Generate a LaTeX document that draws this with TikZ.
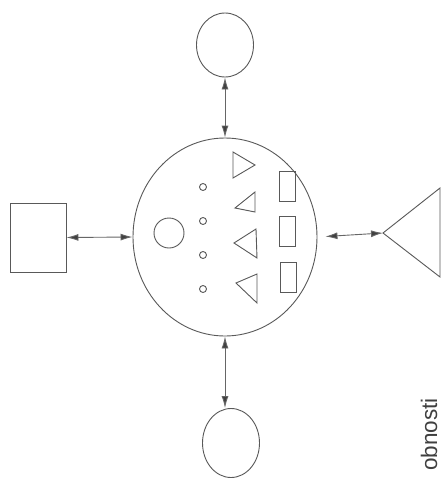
\documentclass[tikz,border=0pt]{standalone}
\usepackage{fontspec}
\setsansfont{Liberation Sans}
\usetikzlibrary{shapes.geometric,arrows.meta}
\begin{document}
\begin{tikzpicture}[x=1pt,y=-1pt,
  ln/.style={draw=black!65, line width=0.9pt},
  oval/.style={ellipse, ln, inner sep=0pt},
  link/.style={draw=black!60, line width=0.9pt,
    {Latex[length=12pt,width=7pt,fill=black!75]}-{Latex[length=12pt,width=7pt,fill=black!75]}}]
\useasboundingbox[fill=white] (0,0) rectangle (443,480);
% outer shapes
\node[oval, minimum width=184pt, minimum height=198pt] (big) at (225,237) {};
\node[oval, minimum width=57pt, minimum height=64pt] (top) at (225,45) {};
\node[oval, minimum width=57pt, minimum height=69pt] (bot) at (231,443) {};
\node[ln, rectangle, minimum width=56pt, minimum height=69pt, inner sep=0pt] (box) at (38,237.5) {};
\coordinate (apex) at (383,233);
\draw[ln] (apex) -- (440,188) -- (440,277) -- cycle;
% connectors
\draw[link] (box.east) -- (big.west);
\draw[link, shorten <=8pt] (big.east) -- (apex);
\draw[link] (top.south) -- (big.north);
\draw[link] (big.south) -- (big.south |- bot.north);
% inner shapes
\draw[ln] (169,233) circle[radius=15pt];
\foreach \yy in {187,221,255,289} \draw[ln] (203,\yy) circle[radius=3.5pt];
\draw[ln] (233,152) -- (255,165) -- (233,178) -- cycle;
\draw[ln] (255,192) -- (255,212) -- (235,208) -- cycle;
\draw[ln] (256,229) -- (257,258) -- (234,243) -- cycle;
\draw[ln] (257,274) -- (257,303) -- (236,283) -- cycle;
\draw[ln] (279,171) rectangle (295,201);
\draw[ln] (279,216) rectangle (295,246);
\draw[ln] (280,262) rectangle (296,292);
% label
\node[rotate=90, anchor=base east, inner sep=0pt, text=black!75,
  font=\sffamily\fontsize{22.5}{26}\selectfont] (lbl) at (437,398) {obnosti};
\end{tikzpicture}
\end{document}
